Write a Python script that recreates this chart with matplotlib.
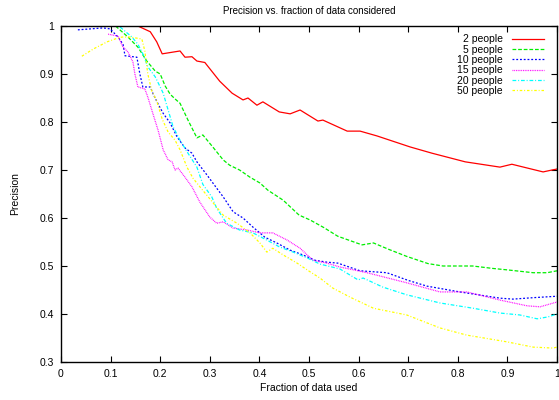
import matplotlib
matplotlib.use("Agg")
import matplotlib.pyplot as plt
from matplotlib.ticker import FuncFormatter

# values
x_2 = [0.155, 0.18, 0.193, 0.204, 0.24, 0.25, 0.264, 0.274, 0.29, 0.32, 0.345, 0.367,
       0.377, 0.395, 0.407, 0.44, 0.462, 0.482, 0.518, 0.528, 0.577, 0.603, 0.637,
       0.669, 0.704, 0.748, 0.815, 0.885, 0.909, 0.972, 0.99, 1.0]
y_2 = [1.0, 0.988, 0.967, 0.942, 0.948, 0.935, 0.936, 0.927, 0.924, 0.885, 0.86, 0.846,
       0.85, 0.835, 0.842, 0.821, 0.817, 0.825, 0.802, 0.804, 0.781, 0.781, 0.771,
       0.76, 0.748, 0.735, 0.717, 0.706, 0.712, 0.696, 0.70, 0.702]

x_5 = [0.11, 0.135, 0.155, 0.173, 0.19, 0.2, 0.21, 0.22, 0.23, 0.24, 0.256, 0.274,
       0.286, 0.306, 0.327, 0.34, 0.36, 0.381, 0.401, 0.417, 0.448, 0.48, 0.502, 0.53,
       0.558, 0.607, 0.63, 0.66, 0.697, 0.74, 0.77, 0.83, 0.87, 0.899, 0.952, 0.98, 1.0]
y_5 = [1.0, 0.977, 0.956, 0.927, 0.906, 0.9, 0.875, 0.858, 0.848, 0.839, 0.804, 0.767,
       0.773, 0.748, 0.721, 0.71, 0.70, 0.685, 0.673, 0.658, 0.637, 0.606, 0.596, 0.58,
       0.562, 0.544, 0.548, 0.535, 0.52, 0.505, 0.50, 0.50, 0.495, 0.492, 0.486, 0.486, 0.49]

x_10 = [0.034, 0.085, 0.099, 0.115, 0.125, 0.129, 0.153, 0.159, 0.165, 0.18, 0.186,
        0.196, 0.206, 0.22, 0.234, 0.25, 0.264, 0.274, 0.294, 0.314, 0.327, 0.347,
        0.367, 0.387, 0.411, 0.435, 0.462, 0.488, 0.512, 0.536, 0.558, 0.603, 0.657,
        0.70, 0.738, 0.804, 0.885, 0.911, 0.952, 1.0]
y_10 = [0.992, 0.996, 0.994, 0.977, 0.962, 0.938, 0.935, 0.9, 0.873, 0.873, 0.858,
        0.837, 0.818, 0.798, 0.769, 0.746, 0.735, 0.717, 0.69, 0.662, 0.644, 0.613,
        0.60, 0.581, 0.56, 0.548, 0.533, 0.523, 0.512, 0.508, 0.506, 0.49, 0.486,
        0.47, 0.458, 0.446, 0.433, 0.431, 0.434, 0.437]

x_15 = [0.095, 0.115, 0.125, 0.135, 0.145, 0.149, 0.155, 0.169, 0.175, 0.186, 0.196,
        0.206, 0.216, 0.224, 0.23, 0.236, 0.25, 0.264, 0.28, 0.30, 0.314, 0.327, 0.347,
        0.375, 0.401, 0.427, 0.456, 0.482, 0.508, 0.536, 0.562, 0.617, 0.697, 0.764,
        0.818, 0.885, 0.94, 0.966, 1.0]
y_15 = [0.983, 0.979, 0.956, 0.946, 0.925, 0.90, 0.873, 0.869, 0.852, 0.815, 0.782,
        0.742, 0.721, 0.717, 0.70, 0.704, 0.685, 0.665, 0.633, 0.602, 0.589, 0.592, 0.579,
        0.575, 0.569, 0.569, 0.554, 0.537, 0.512, 0.506, 0.498, 0.486, 0.465, 0.446,
        0.446, 0.429, 0.417, 0.415, 0.425]

x_20 = [0.119, 0.143, 0.155, 0.165, 0.175, 0.19, 0.2, 0.206, 0.216, 0.226, 0.24, 0.256,
        0.274, 0.286, 0.304, 0.314, 0.334, 0.36, 0.387, 0.415, 0.44, 0.468, 0.496, 0.522,
        0.562, 0.599, 0.609, 0.649, 0.697, 0.764, 0.831, 0.885, 0.925, 0.96, 0.982, 1.0]
y_20 = [0.998, 0.977, 0.962, 0.942, 0.915, 0.894, 0.873, 0.86, 0.825, 0.79, 0.762, 0.735,
        0.706, 0.67, 0.644, 0.62, 0.589, 0.575, 0.569, 0.554, 0.54, 0.529, 0.517, 0.504,
        0.494, 0.471, 0.475, 0.456, 0.44, 0.423, 0.412, 0.402, 0.398, 0.39, 0.394, 0.40]

x_50 = [0.042, 0.065, 0.093, 0.109, 0.123, 0.139, 0.163, 0.169, 0.175, 0.183, 0.193,
        0.204, 0.216, 0.23, 0.24, 0.254, 0.266, 0.28, 0.30, 0.327, 0.355, 0.381, 0.401,
        0.415, 0.427, 0.448, 0.476, 0.502, 0.522, 0.548, 0.583, 0.63, 0.697, 0.764,
        0.818, 0.899, 0.952, 0.992, 1.0]
y_50 = [0.937, 0.952, 0.967, 0.973, 0.977, 0.977, 0.973, 0.948, 0.90, 0.865, 0.844,
        0.806, 0.779, 0.762, 0.742, 0.706, 0.683, 0.665, 0.64, 0.606, 0.589, 0.569, 0.548,
        0.529, 0.537, 0.523, 0.506, 0.488, 0.475, 0.454, 0.435, 0.412, 0.398, 0.371,
        0.356, 0.342, 0.331, 0.329, 0.331]

series = [
    ("2 people", x_2, y_2, "#ff0000", "-"),
    ("5 people", x_5, y_5, "#00ee00", (0, (3, 1.5))),
    ("10 people", x_10, y_10, "#0000ff", (0, (1.5, 1.5))),
    ("15 people", x_15, y_15, "#ff00ff", (0, (0.7, 0.7))),
    ("20 people", x_20, y_20, "#00ffff", (0, (3, 1.5, 0.8, 1.5))),
    ("50 people", x_50, y_50, "#ffff00", (0, (2, 1.5, 0.8, 1.5))),
]

plt.rcParams['font.family'] = ['Liberation Sans', 'DejaVu Sans']
plt.rcParams['font.size'] = 7.5

fig = plt.figure(figsize=(5.59, 4.0), dpi=100)
ax = fig.add_axes([61 / 559, 38 / 400, 496 / 559, 336 / 400])

for label, xs, ys, color, ls in series:
    ax.plot(xs, ys, color=color, linestyle=ls, linewidth=0.9, label=label)

ax.set_xlim(0, 1)
ax.set_ylim(0.3, 1.0)
ax.set_xticks([i / 10 for i in range(11)])
ax.set_yticks([0.3 + i / 10 for i in range(8)])
ax.xaxis.set_major_formatter(FuncFormatter(lambda v, p: "%g" % round(v, 2)))
ax.yaxis.set_major_formatter(FuncFormatter(lambda v, p: "%g" % round(v, 2)))
ax.tick_params(direction='in', length=4, width=0.8, top=True, right=True, pad=5)
for sp in ax.spines.values():
    sp.set_linewidth(1.0)
    sp.set_zorder(5)

ax.set_title("Precision vs. fraction of data considered", fontsize=7, pad=9)
ax.set_xlabel("Fraction of data used", labelpad=3)
ax.set_ylabel("Precision", labelpad=14)

ax.legend(loc='upper right', bbox_to_anchor=(0.973, 0.975), frameon=False,
          markerfirst=False, handlelength=3.0, handletextpad=0.9,
          labelspacing=0.03, borderaxespad=0, borderpad=0)

fig.savefig("out.png", dpi=100)
